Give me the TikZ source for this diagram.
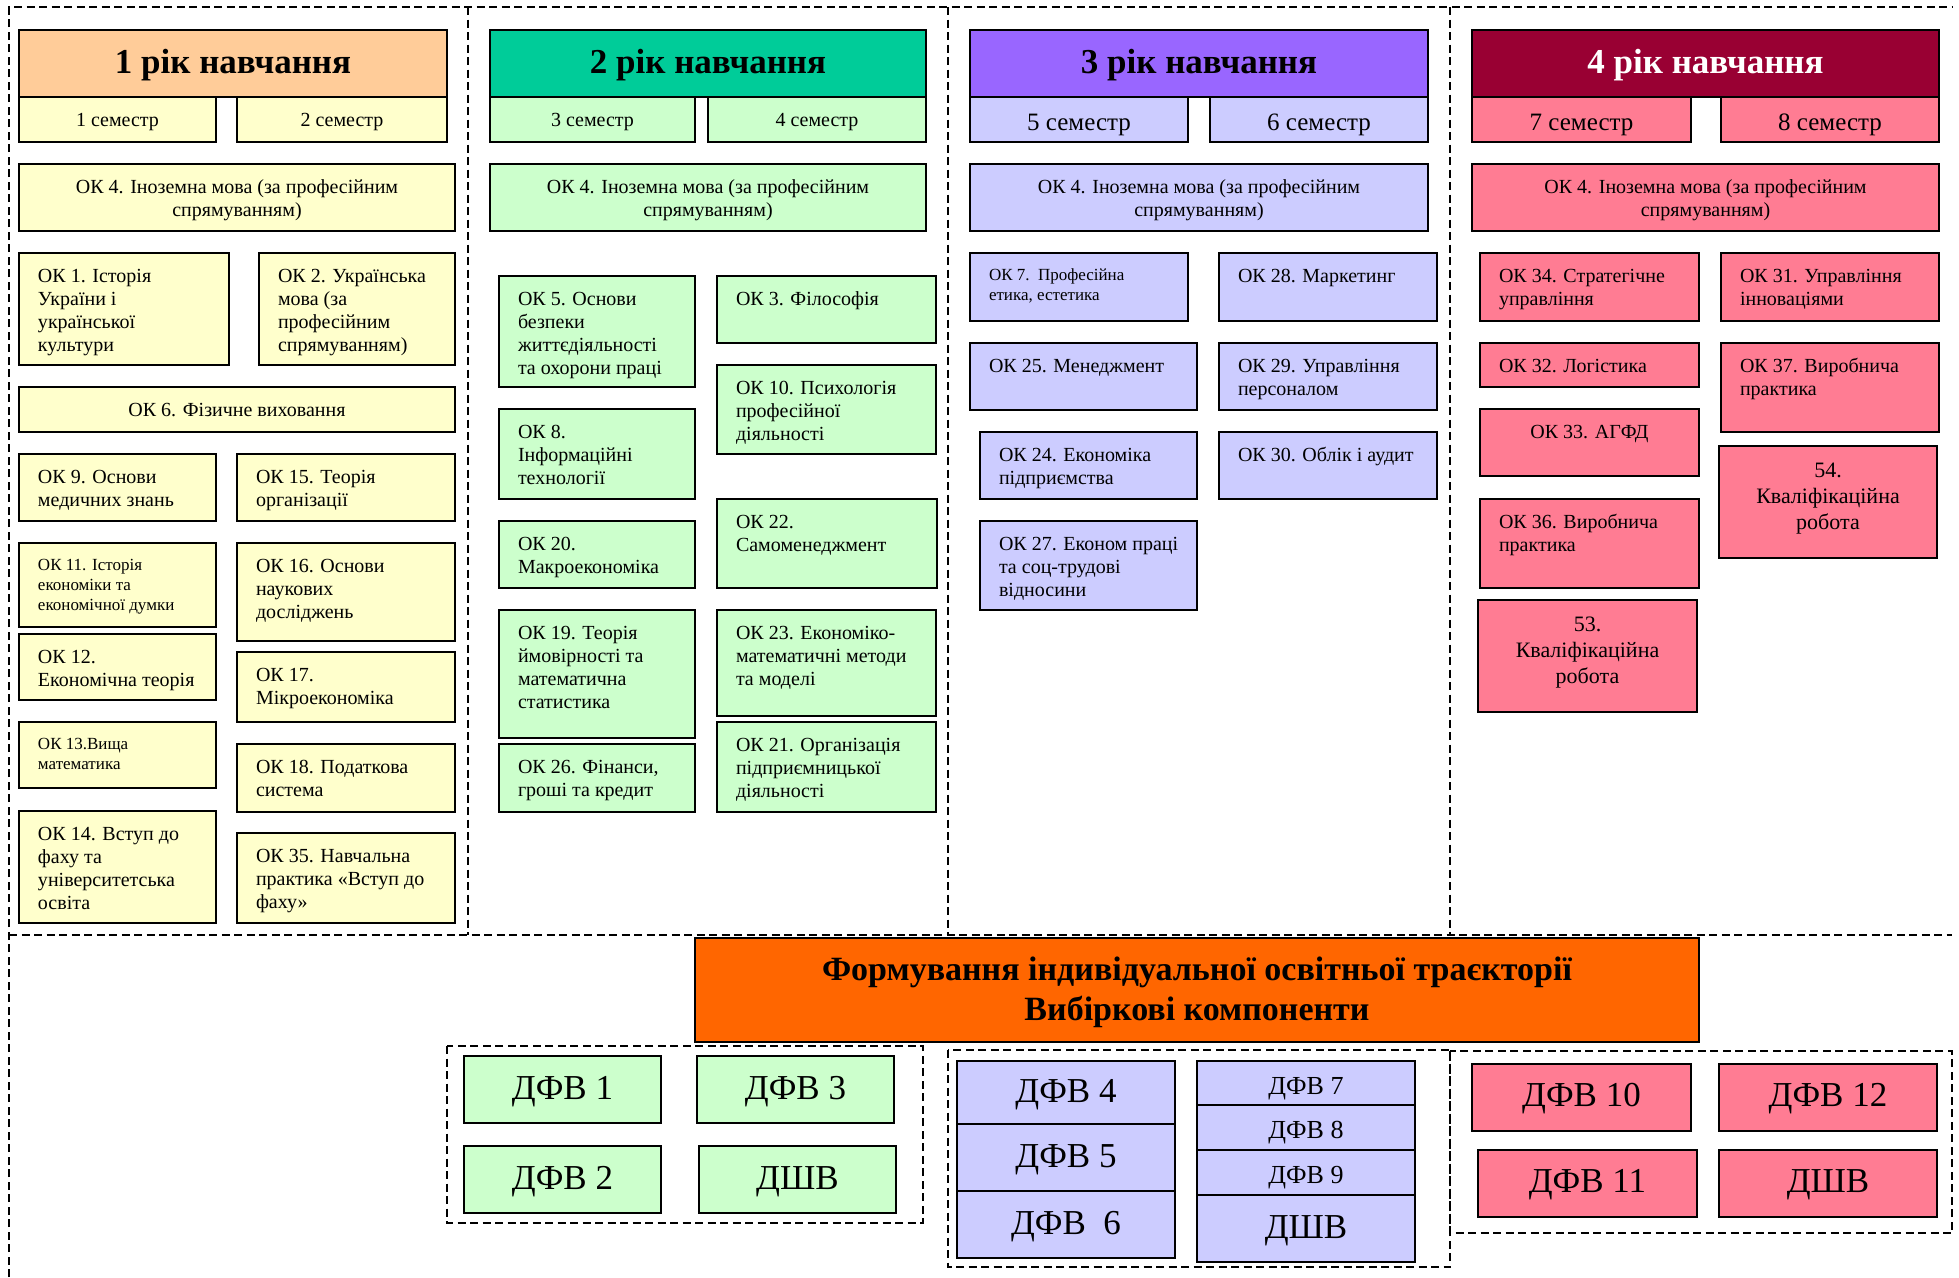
\documentclass[tikz,border=0pt]{standalone}
\usepackage{fontspec}
\setmainfont{Liberation Serif}
\definecolor{cPeach}{HTML}{FFCC99}
\definecolor{cTeal}{HTML}{00CC99}
\definecolor{cPurple}{HTML}{9966FF}
\definecolor{cMaroon}{HTML}{990033}
\definecolor{cYel}{HTML}{FFFFCC}
\definecolor{cGrn}{HTML}{CCFFCC}
\definecolor{cLav}{HTML}{CCCCFF}
\definecolor{cPink}{HTML}{FF7C93}
\definecolor{cOrange}{HTML}{FF6600}
\newcommand\fHdr{\fontsize{35}{40}\selectfont\bfseries}
\newcommand\fSemA{\fontsize{20}{22}\selectfont}
\newcommand\fSemB{\fontsize{25}{28}\selectfont}
\newcommand\fDfv{\fontsize{35}{40}\selectfont}
\newcommand\fDfs{\fontsize{26}{30}\selectfont}
\newcommand\Lt{\fontsize{20}{23}\selectfont\raggedright\leftskip=19pt\vspace*{13.3pt}\strut}
\newcommand\Ls{\fontsize{17}{20}\selectfont\raggedright\leftskip=19pt\vspace*{13pt}\strut}
\newcommand\Ct{\fontsize{20}{23}\selectfont\centering\vspace*{13.8pt}\strut}
\newcommand\Cq{\fontsize{22}{26}\selectfont\centering\vspace*{13.5pt}\strut}
\newcommand\Co{\fontsize{34}{40}\selectfont\bfseries\centering\vspace*{14pt}\strut}
\tikzset{
  bxs/.style={draw=black, line width=1.6pt, inner sep=0pt, outer sep=0pt, anchor=north west},
  cbx/.style={draw=black, line width=1.6pt, inner sep=0pt, outer sep=0pt, text depth=0pt},
  dsh/.style={dash pattern=on 8pt off 4.5pt, line width=1.7pt}
}
% top-aligned box: name x1 y1 x2 y2 fill format text
\newcommand\bx[8]{\node[bxs,fill=#6] (#1) at (#2,#3) {\parbox[c][\dimexpr#5pt-#3pt\relax][t]{\dimexpr#4pt-#2pt\relax}{#7#8\par}};}
% centred one-line box: name x1 y1 x2 y2 fill font text textheight
\newcommand\cb[9]{\node[cbx,fill=#6,font=#7,text height=#9pt,minimum width=#4pt-#2pt,minimum height=#5pt-#3pt] (#1) at ({(#2+#4)/2},{(#3+#5)/2}) {#8};}
\begin{document}
\begin{tikzpicture}[x=1pt,y=-1pt]
\useasboundingbox (0,0) rectangle (1959,1277);
% dashed frame
\draw[dsh] (9,1277) -- (9,7) -- (1952,7);
\draw[dsh] (9,935) -- (1952,935);
\draw[dsh] (468,7) -- (468,935);
\draw[dsh] (948,7) -- (948,935);
\draw[dsh] (1450,7) -- (1450,935);
\draw[dsh] (447,1046) rectangle (923,1223);
\draw[dsh] (948,1050) rectangle (1450,1267);
\draw[dsh] (1450,1051) rectangle (1952,1233);
% ---------- year 1
\cb{hdr1}{19}{30}{447}{97}{cPeach}{\fHdr}{1 рік навчання}{20}
\cb{s1}{19}{97}{216}{142}{cYel}{\fSemA}{1 семестр}{14}
\cb{s2}{237}{97}{447}{142}{cYel}{\fSemA}{2 семестр}{14}
\bx{ok4a}{19}{164}{455}{231}{cYel}{\Ct}{ОК 4. Іноземна мова (за професійним\\спрямуванням)}
\bx{ok1}{19}{253}{229}{365}{cYel}{\Lt}{ОК 1. Історія\\України і\\української\\культури}
\bx{ok2}{259}{253}{455}{365}{cYel}{\Lt}{ОК 2. Українська\\мова (за\\професійним\\спрямуванням)}
\bx{ok6}{19}{387}{455}{432}{cYel}{\Ct}{ОК 6. Фізичне виховання}
\bx{ok9}{19}{454}{216}{521}{cYel}{\Lt}{ОК 9. Основи\\медичних знань}
\bx{ok15}{237}{454}{455}{521}{cYel}{\Lt}{ОК 15. Теорія\\організації}
\bx{ok11}{19}{543}{216}{627}{cYel}{\Ls}{ОК 11. Історія\\економіки та\\економічної думки}
\bx{ok16}{237}{543}{455}{641}{cYel}{\Lt}{ОК 16. Основи\\наукових\\досліджень}
\bx{ok12}{19}{634}{216}{700}{cYel}{\Lt}{ОК 12.\\Економічна теорія}
\bx{ok17}{237}{652}{455}{722}{cYel}{\Lt}{ОК 17.\\Мікроекономіка}
\bx{ok13}{19}{722}{216}{788}{cYel}{\Ls}{ОК 13.Вища\\математика}
\bx{ok18}{237}{744}{455}{812}{cYel}{\Lt}{ОК 18. Податкова\\система}
\bx{ok14}{19}{811}{216}{923}{cYel}{\Lt}{ОК 14. Вступ до\\фаху та\\університетська\\освіта}
\bx{ok35}{237}{833}{455}{923}{cYel}{\Lt}{ОК 35. Навчальна\\практика «Вступ до\\фаху»}
% ---------- year 2
\cb{hdr2}{490}{30}{926}{97}{cTeal}{\fHdr}{2 рік навчання}{20}
\cb{s3}{490}{97}{695}{142}{cGrn}{\fSemA}{3 семестр}{14}
\cb{s4}{708}{97}{926}{142}{cGrn}{\fSemA}{4 семестр}{14}
\bx{ok4b}{490}{164}{926}{231}{cGrn}{\Ct}{ОК 4. Іноземна мова (за професійним\\спрямуванням)}
\bx{ok5}{499}{276}{695}{387}{cGrn}{\Lt}{ОК 5. Основи\\безпеки\\життєдіяльності\\та охорони праці}
\bx{ok3}{717}{276}{936}{343}{cGrn}{\Lt}{ОК 3. Філософія}
\bx{ok10}{717}{365}{936}{454}{cGrn}{\Lt}{ОК 10. Психологія\\професійної\\діяльності}
\bx{ok8}{499}{409}{695}{499}{cGrn}{\Lt}{ОК 8.\\Інформаційні\\технології}
\bx{ok22}{717}{499}{937}{588}{cGrn}{\Lt}{ОК 22.\\Самоменеджмент}
\bx{ok20}{499}{521}{695}{588}{cGrn}{\Lt}{ОК 20.\\Макроекономіка}
\bx{ok19}{499}{610}{695}{738}{cGrn}{\Lt}{ОК 19. Теорія\\ймовірності та\\математична\\статистика}
\bx{ok23}{717}{610}{936}{716}{cGrn}{\Lt}{ОК 23. Економіко-\\математичні методи\\та моделі}
\bx{ok26}{499}{744}{695}{812}{cGrn}{\Lt}{ОК 26. Фінанси,\\гроші та кредит}
\bx{ok21}{717}{722}{936}{812}{cGrn}{\Lt}{ОК 21. Організація\\підприємницької\\діяльності}
% ---------- year 3
\cb{hdr3}{970}{30}{1428}{97}{cPurple}{\fHdr}{3 рік навчання}{20}
\cb{s5}{970}{97}{1188}{142}{cLav}{\fSemB}{5 семестр}{21}
\cb{s6}{1210}{97}{1428}{142}{cLav}{\fSemB}{6 семестр}{21}
\bx{ok4c}{970}{164}{1428}{231}{cLav}{\Ct}{ОК 4. Іноземна мова (за професійним\\спрямуванням)}
\bx{ok7}{970}{253}{1188}{321}{cLav}{\Ls}{ОК 7.\ \ Професійна\\етика, естетика}
\bx{ok28}{1219}{253}{1437}{321}{cLav}{\Lt}{ОК 28. Маркетинг}
\bx{ok25}{970}{343}{1197}{410}{cLav}{\Lt}{ОК 25. Менеджмент}
\bx{ok29}{1219}{343}{1437}{410}{cLav}{\Lt}{ОК 29. Управління\\персоналом}
\bx{ok24}{980}{432}{1197}{499}{cLav}{\Lt}{ОК 24. Економіка\\підприємства}
\bx{ok30}{1219}{432}{1437}{499}{cLav}{\Lt}{ОК 30. Облік і аудит}
\bx{ok27}{980}{521}{1197}{610}{cLav}{\Lt}{ОК 27. Економ праці\\та соц-трудові\\відносини}
% ---------- year 4
\cb{hdr4}{1472}{30}{1939}{97}{cMaroon}{\fHdr\color{white}}{4 рік навчання}{20}
\cb{s7}{1472}{97}{1691}{142}{cPink}{\fSemB}{7 семестр}{21}
\cb{s8}{1721}{97}{1939}{142}{cPink}{\fSemB}{8 семестр}{21}
\bx{ok4d}{1472}{164}{1939}{231}{cPink}{\Ct}{ОК 4. Іноземна мова (за професійним\\спрямуванням)}
\bx{ok34}{1480}{253}{1699}{321}{cPink}{\Lt}{ОК 34. Стратегічне\\управління}
\bx{ok31}{1721}{253}{1939}{321}{cPink}{\Lt}{ОК 31. Управління\\інноваціями}
\bx{ok32}{1480}{343}{1699}{387}{cPink}{\Lt}{ОК 32. Логістика}
\bx{ok37}{1721}{343}{1939}{432}{cPink}{\Lt}{ОК 37. Виробнича\\практика}
\bx{ok33}{1480}{409}{1699}{476}{cPink}{\Ct}{ОК 33. АГФД}
\bx{w54}{1719}{446}{1937}{558}{cPink}{\Cq}{54.\\Кваліфікаційна\\робота}
\bx{ok36}{1480}{499}{1699}{588}{cPink}{\Lt}{ОК 36. Виробнича\\практика}
\bx{w53}{1478}{600}{1697}{712}{cPink}{\Cq}{53.\\Кваліфікаційна\\робота}
% ---------- elective components
\bx{sel}{695}{938}{1699}{1042}{cOrange}{\Co}{Формування індивідуальної освітньої траєкторії\\Вибіркові компоненти}
\cb{dfv1}{464}{1056}{661}{1123}{cGrn}{\fDfv}{ДФВ 1}{19}
\cb{dfv3}{697}{1056}{894}{1123}{cGrn}{\fDfv}{ДФВ 3}{19}
\cb{dfv2}{464}{1146}{661}{1213}{cGrn}{\fDfv}{ДФВ 2}{19}
\cb{dshva}{699}{1146}{896}{1213}{cGrn}{\fDfv}{ДШВ}{19}
\cb{dfv4}{957}{1061}{1175}{1124}{cLav}{\fDfv}{ДФВ 4}{19}
\cb{dfv5}{957}{1124}{1175}{1191}{cLav}{\fDfv}{ДФВ 5}{19}
\cb{dfv6}{957}{1191}{1175}{1258}{cLav}{\fDfv}{ДФВ\ \ 6}{19}
\cb{dfv7}{1197}{1061}{1415}{1105}{cLav}{\fDfs}{ДФВ 7}{22}
\cb{dfv8}{1197}{1105}{1415}{1150}{cLav}{\fDfs}{ДФВ 8}{22}
\cb{dfv9}{1197}{1150}{1415}{1195}{cLav}{\fDfs}{ДФВ 9}{22}
\cb{dshvb}{1197}{1195}{1415}{1262}{cLav}{\fDfv}{ДШВ}{19}
\cb{dfv10}{1472}{1064}{1691}{1131}{cPink}{\fDfv}{ДФВ 10}{18}
\cb{dfv12}{1719}{1064}{1937}{1131}{cPink}{\fDfv}{ДФВ 12}{18}
\cb{dfv11}{1478}{1150}{1697}{1217}{cPink}{\fDfv}{ДФВ 11}{18}
\cb{dshvc}{1719}{1150}{1937}{1217}{cPink}{\fDfv}{ДШВ}{18}
\end{tikzpicture}
\end{document}
